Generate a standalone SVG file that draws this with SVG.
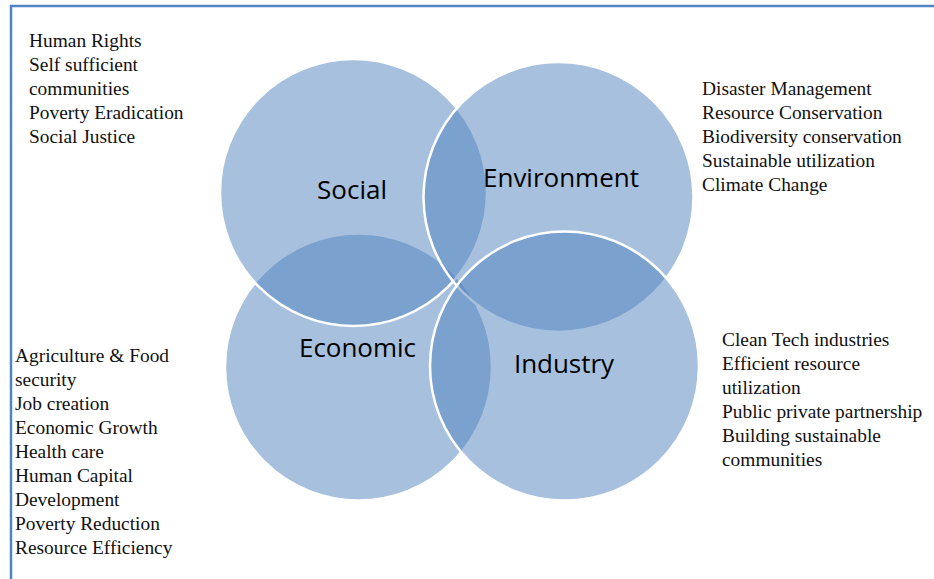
<svg xmlns="http://www.w3.org/2000/svg" width="934" height="579" viewBox="0 0 934 579">
<style>
.c{fill:#4F81BD;fill-opacity:0.5;stroke:#fff;stroke-width:2.5}
.lbl{font-family:"Open Sans","Liberation Sans",sans-serif;font-size:26px;fill:#000}
.t{font-family:"Liberation Serif","Times New Roman",serif;font-size:19.4px;fill:#111}
</style>
<rect x="0" y="0" width="934" height="579" fill="#fff"/>
<g id="frame">
<line x1="10" y1="6" x2="934" y2="6" stroke="#5283C4" stroke-width="2.5"/>
<line x1="11" y1="5" x2="11" y2="579" stroke="#5283C4" stroke-width="2.5"/>
</g>
<g id="connectors"></g>
<g id="economic"><circle class="c" cx="358.5" cy="367" r="133.5"/></g>
<g id="social"><circle class="c" cx="353.5" cy="192.5" r="133.5"/></g>
<g id="environment"><circle class="c" cx="558.5" cy="197" r="135"/></g>
<g id="industry"><circle class="c" cx="564.5" cy="366" r="134.5"/></g>
<g id="labels">
<text class="lbl" x="317" y="199" textLength="70">Social</text>
<text class="lbl" x="483" y="187" textLength="156">Environment</text>
<text class="lbl" x="299" y="357" textLength="117">Economic</text>
<text class="lbl" x="514" y="373" textLength="100">Industry</text>
</g>
<g id="social-text">
<text class="t" x="29" y="47">Human Rights</text>
<text class="t" x="29" y="71">Self sufficient</text>
<text class="t" x="29" y="95">communities</text>
<text class="t" x="29" y="119">Poverty Eradication</text>
<text class="t" x="29" y="143">Social Justice</text>
</g>
<g id="environment-text">
<text class="t" x="702" y="95">Disaster Management</text>
<text class="t" x="702" y="119">Resource Conservation</text>
<text class="t" x="702" y="143">Biodiversity conservation</text>
<text class="t" x="702" y="167">Sustainable utilization</text>
<text class="t" x="702" y="191">Climate Change</text>
</g>
<g id="economic-text">
<text class="t" x="15" y="362">Agriculture &amp; Food</text>
<text class="t" x="15" y="386">security</text>
<text class="t" x="15" y="410">Job creation</text>
<text class="t" x="15" y="434">Economic Growth</text>
<text class="t" x="15" y="458">Health care</text>
<text class="t" x="15" y="482">Human Capital</text>
<text class="t" x="15" y="506">Development</text>
<text class="t" x="15" y="530">Poverty Reduction</text>
<text class="t" x="15" y="554">Resource Efficiency</text>
</g>
<g id="industry-text">
<text class="t" x="722" y="346">Clean Tech industries</text>
<text class="t" x="722" y="370">Efficient resource</text>
<text class="t" x="722" y="394">utilization</text>
<text class="t" x="722" y="418">Public private partnership</text>
<text class="t" x="722" y="442">Building sustainable</text>
<text class="t" x="722" y="466">communities</text>
</g>
</svg>
